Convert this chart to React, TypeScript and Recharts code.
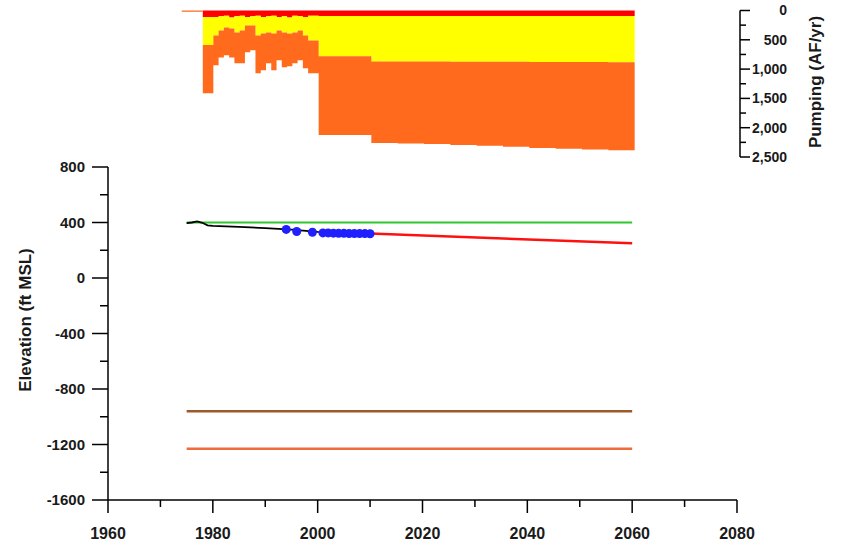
import React from 'react';
import { LineChart, Line, XAxis, YAxis, AreaChart, Area } from 'recharts';

const FONT = '"Liberation Sans", Arial, Helvetica, sans-serif';

// ---------- Pumping (top panel), AF/yr, step changes by year ----------
const pumpYears = [1974, 1978, 1980, 1981, 1982, 1983, 1984, 1985, 1986, 1987, 1988, 1989, 1990, 1991, 1992, 1993, 1994, 1995, 1996, 1997, 1998, 2000, 2010, 2015, 2020, 2025, 2030, 2035, 2040, 2045, 2050, 2055, 2060];
const pumpRed = [0, 110, 110, 100, 90, 120, 100, 90, 110, 100, 90, 110, 100, 90, 110, 100, 120, 90, 100, 110, 90, 95, 95, 95, 95, 95, 95, 95, 95, 95, 95, 95, 95];
const pumpYellow = [0, 480, 315, 240, 200, 186, 274, 250, 145, 155, 335, 281, 274, 301, 230, 274, 271, 284, 240, 315, 420, 685, 775, 775, 775, 780, 780, 780, 785, 785, 785, 790, 790];
const pumpOrange = [20, 820, 510, 460, 475, 494, 526, 560, 459, 425, 645, 629, 526, 629, 510, 596, 559, 526, 510, 560, 560, 1345, 1390, 1400, 1410, 1420, 1435, 1450, 1465, 1480, 1490, 1500, 1500];
const pumpTicks = [0, 250, 500, 750, 1000, 1250, 1500, 1750, 2000, 2250, 2500];

// ---------- Elevation (bottom panel), ft MSL ----------
const xTicks = [1960, 1970, 1980, 1990, 2000, 2010, 2020, 2030, 2040, 2050, 2060, 2070, 2080];
const yTicks = [-1600, -1400, -1200, -1000, -800, -600, -400, -200, 0, 200, 400, 600, 800];

const groundYears = [1975, 2060];
const groundElev = [400, 400];

const histYears = [1975, 1976, 1977, 1978, 1979, 1980, 1985, 1990, 1995, 2000, 2005, 2010];
const histElev = [395, 400, 408, 398, 380, 375, 368, 360, 348, 332, 325, 320];

const obsYears = [1994, 1996, 1999, 2001, 2002, 2003, 2004, 2005, 2006, 2007, 2008, 2009, 2010];
const obsElev = [350, 335, 330, 325, 325, 323, 322, 322, 321, 320, 320, 320, 319];

const projYears = [2010, 2060];
const projElev = [320, 250];

const layerAYears = [1975, 2060];
const layerAElev = [-960, -960];

const layerBYears = [1975, 2060];
const layerBElev = [-1230, -1230];

const pumpData = pumpYears.map((y, i) => ({ year: y, red: pumpRed[i], yellow: pumpYellow[i], orange: pumpOrange[i] }));
const toSeries = (xs: number[], vs: number[]) => xs.map((x, i) => ({ year: x, v: vs[i] }));

const txt = { fontFamily: FONT, fontWeight: 700, fill: '#1a1a1a' } as const;

const LeftTick = (props: any) => {
  const { x, y, payload } = props;
  const v = payload.value;
  const major = v % 400 === 0;
  return (
    <g>
      <line x1={x - (major ? 16 : 8)} x2={x} y1={y} y2={y} stroke="#000" strokeWidth={1.5} />
      {major && (
        <text x={x - 23} y={y} dy="0.35em" textAnchor="end" fontSize={15} {...txt}>{v}</text>
      )}
    </g>
  );
};

const BottomTick = (props: any) => {
  const { x, y, payload } = props;
  const v = payload.value;
  const major = v % 20 === 0;
  return (
    <g>
      <line x1={x} x2={x} y1={y} y2={y + (major ? 13 : 7)} stroke="#000" strokeWidth={1.5} />
      {major && (
        <text x={x} y={y + 33} dy="0.35em" textAnchor="middle" fontSize={16} {...txt}>{v}</text>
      )}
    </g>
  );
};

const RightTick = (props: any) => {
  const { x, y, payload } = props;
  const v = payload.value;
  const major = v % 500 === 0;
  return (
    <g>
      <line x1={x} x2={x + (major ? 10 : 6)} y1={y} y2={y} stroke="#000" strokeWidth={1.5} />
      {major && (
        <text x={x + 47} y={y} dy="0.35em" textAnchor="end" fontSize={14} {...txt}>{v.toLocaleString('en-US')}</text>
      )}
    </g>
  );
};

const ElevTitle = () => {
  const cy = 320;
  return (
    <text x={25} y={cy} transform={`rotate(-90 25 ${cy})`} textAnchor="middle" dy="0.35em" fontSize={17} {...txt}>Elevation (ft MSL)</text>
  );
};

const PumpTitle = () => {
  const cy = 82;
  return (
    <text x={815} y={cy} transform={`rotate(-90 815 ${cy})`} textAnchor="middle" dy="0.35em" fontSize={17} {...txt}>Pumping (AF/yr)</text>
  );
};

export default function App() {
  return (
    <div style={{ position: 'absolute', left: 0, top: 0, width: 846, height: 547, background: '#fff' }}>
      <div style={{ position: 'absolute', left: 0, top: 0 }}>
        <AreaChart width={846} height={170} data={pumpData} margin={{ top: 10.5, right: 6, bottom: 13, left: 108 }}>
          <XAxis dataKey="year" type="number" domain={[1960, 2080]} hide allowDataOverflow />
          <YAxis
            orientation="right"
            type="number"
            domain={[0, 2500]}
            reversed
            ticks={pumpTicks}
            interval={0}
            width={100}
            tickSize={0}
            tickMargin={0}
            tickLine={false}
            axisLine={{ stroke: '#000', strokeWidth: 1.5 }}
            tick={<RightTick />}
            label={<PumpTitle />}
          />
          <Area dataKey="red" stackId="p" type="stepAfter" fill="#ff0000" stroke="none" fillOpacity={1} isAnimationActive={false} />
          <Area dataKey="yellow" stackId="p" type="stepAfter" fill="#ffff00" stroke="none" fillOpacity={1} isAnimationActive={false} />
          <Area dataKey="orange" stackId="p" type="stepAfter" fill="#ff6a1c" stroke="none" fillOpacity={1} isAnimationActive={false} />
        </AreaChart>
      </div>
      <div style={{ position: 'absolute', left: 0, top: 0 }}>
        <LineChart width={846} height={547} margin={{ top: 167, right: 109, bottom: 7, left: 8 }}>
          <XAxis
            dataKey="year"
            type="number"
            domain={[1960, 2080]}
            ticks={xTicks}
            interval={0}
            height={40}
            tickSize={0}
            tickMargin={0}
            tickLine={false}
            axisLine={{ stroke: '#000', strokeWidth: 1.5 }}
            tick={<BottomTick />}
            allowDataOverflow
          />
          <YAxis
            type="number"
            domain={[-1600, 800]}
            ticks={yTicks}
            interval={0}
            width={100}
            tickSize={0}
            tickMargin={0}
            tickLine={false}
            axisLine={{ stroke: '#000', strokeWidth: 1.5 }}
            tick={<LeftTick />}
            label={<ElevTitle />}
          />
          <Line data={toSeries(groundYears, groundElev)} dataKey="v" stroke="#2ec82e" strokeWidth={2} dot={false} isAnimationActive={false} />
          <Line data={toSeries(layerAYears, layerAElev)} dataKey="v" stroke="#9a5a2c" strokeWidth={2.5} dot={false} isAnimationActive={false} />
          <Line data={toSeries(layerBYears, layerBElev)} dataKey="v" stroke="#f06a3c" strokeWidth={2.5} dot={false} isAnimationActive={false} />
          <Line data={toSeries(projYears, projElev)} dataKey="v" stroke="#ff1010" strokeWidth={2.5} dot={false} isAnimationActive={false} />
          <Line data={toSeries(histYears, histElev)} dataKey="v" stroke="#000" strokeWidth={1.8} dot={false} isAnimationActive={false} />
          <Line data={toSeries(obsYears, obsElev)} dataKey="v" stroke="none" dot={{ r: 4.5, fill: '#2020ff', stroke: '#2020ff', strokeWidth: 0 }} isAnimationActive={false} />
        </LineChart>
      </div>
    </div>
  );
}
